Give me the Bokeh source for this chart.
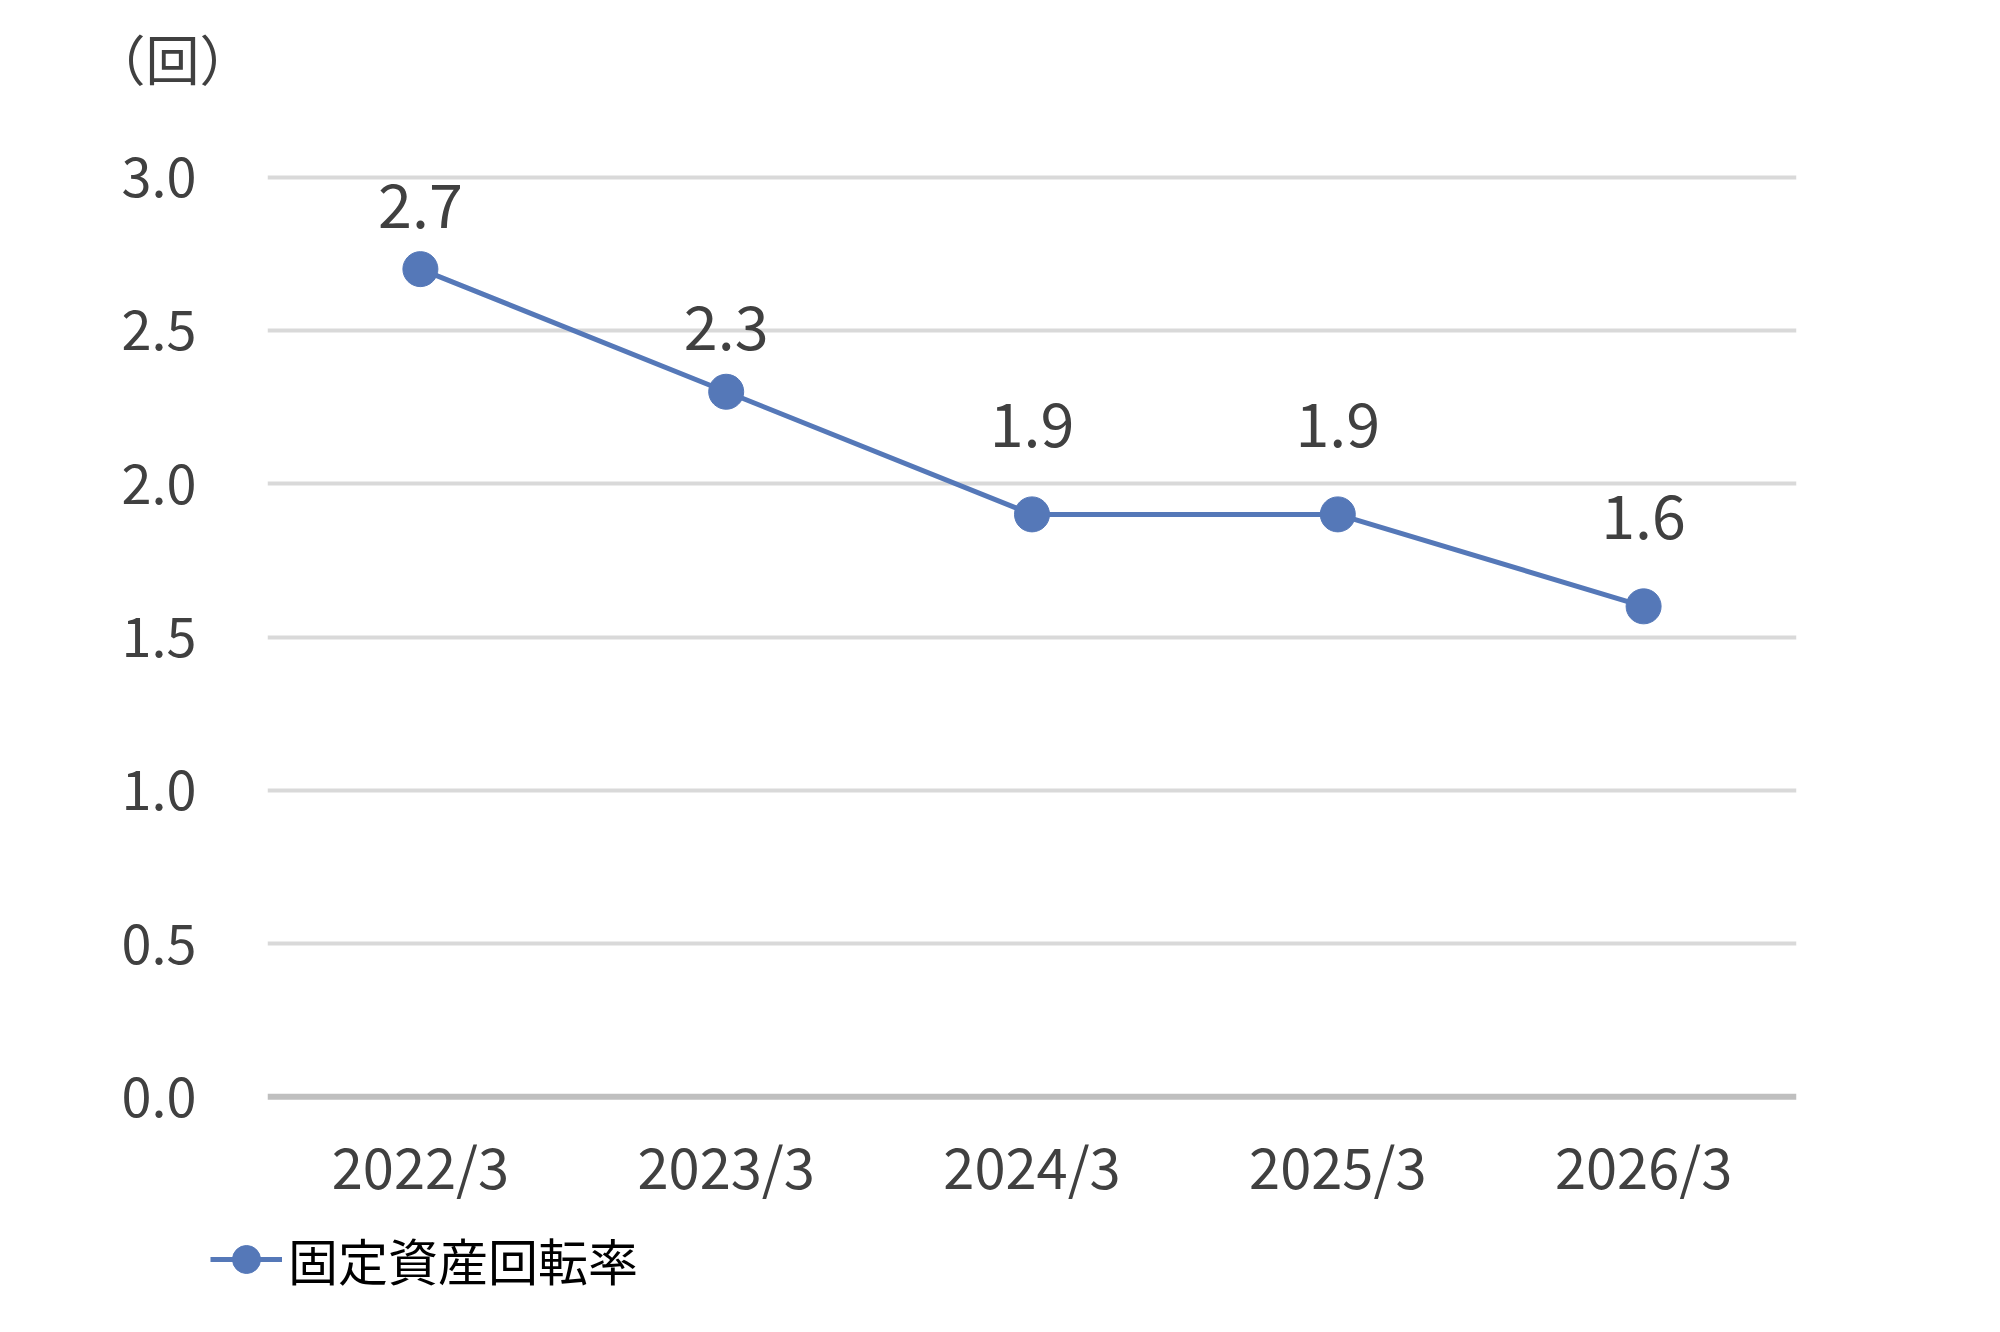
from bokeh.plotting import figure
from bokeh.layouts import column
from bokeh.models import (FactorRange, Range1d, FixedTicker, NumeralTickFormatter,
                          Span, Label, Legend, LegendItem, ColumnDataSource)
from bokeh.core.properties import value
from bokeh.embed import file_html
from bokeh.resources import INLINE

categories = ["2022/3", "2023/3", "2024/3", "2025/3", "2026/3"]
values = [2.7, 2.3, 1.9, 1.9, 1.6]
value_labels = ["2.7", "2.3", "1.9", "1.9", "1.6"]
y_ticks = [0.0, 0.5, 1.0, 1.5, 2.0, 2.5, 3.0]
series_name = "固定資産回転率"
unit_label = "（回）"

# label placement (style, not data): pixel offset of each value label above its point
label_dy = [-64, -64, -90, -90, -90]

FONT = "Noto Sans CJK JP"
TEXT = "#404040"
BLUE = "#5578b8"

src = ColumnDataSource(dict(x=categories, y=values, lab=value_labels, dy=label_dy))

def strip(h):
    f = figure(width=2000, height=h, output_backend="svg", toolbar_location=None,
               x_range=FactorRange(factors=categories, range_padding=0),
               y_range=Range1d(100, 101),
               x_axis_location=None, y_axis_location=None,
               min_border_left=0, min_border_right=0, min_border_top=0, min_border_bottom=0)
    f.frame_align = False
    f.outline_line_color = None
    f.grid.visible = False
    return f

# unit label strip above the chart
p0 = strip(100)
p0.add_layout(Label(x=91, y=43, x_units="screen", y_units="screen", text=unit_label,
                    text_font=FONT, text_font_size="54px", text_color=TEXT,
                    text_baseline="middle"))

p = figure(width=2000, height=1112, output_backend="svg", toolbar_location=None,
           x_range=FactorRange(factors=categories, range_padding=0),
           y_range=Range1d(-0.1, 3.1),
           min_border_left=267, min_border_right=204,
           min_border_top=46, min_border_bottom=85)
p.frame_align = False
p.outline_line_color = None
p.background_fill_color = "white"
p.border_fill_color = "white"

p.xgrid.grid_line_color = None
p.ygrid.ticker = FixedTicker(ticks=y_ticks[1:])
p.ygrid.grid_line_color = "#d9d9d9"
p.ygrid.grid_line_width = 4

p.add_layout(Span(location=0, dimension="width", line_color="#bfbfbf", line_width=6))

p.yaxis.ticker = FixedTicker(ticks=y_ticks)
p.yaxis.formatter = NumeralTickFormatter(format="0.0")
p.yaxis.axis_line_color = None
p.yaxis.major_tick_line_color = None
p.yaxis.minor_tick_line_color = None
p.yaxis.major_label_standoff = 65
p.yaxis.major_label_text_font = FONT
p.yaxis.major_label_text_font_size = "54px"
p.yaxis.major_label_text_color = TEXT

p.xaxis.axis_line_color = None
p.xaxis.major_tick_line_color = None
p.xaxis.minor_tick_line_color = None
p.xaxis.major_label_standoff = -10
p.xaxis.major_label_text_font = FONT
p.xaxis.major_label_text_font_size = "56px"
p.xaxis.major_label_text_color = TEXT

p.line("x", "y", source=src, line_color=BLUE, line_width=5)
p.scatter("x", "y", source=src, size=35, fill_color=BLUE, line_color=BLUE)

p.text("x", "y", text="lab", source=src, y_offset="dy", text_align="center",
       text_baseline="alphabetic", text_font=value(FONT), text_font_size="61px",
       text_color=TEXT)

# legend strip below the chart (its renderers lie outside its own y range)
p2 = strip(120)
lr = p2.line("x", "y", source=src, line_color=BLUE, line_width=5)
sr = p2.scatter("x", "y", source=src, size=35, fill_color=BLUE, line_color=BLUE)
legend = Legend(items=[LegendItem(label=series_name, renderers=[lr, sr])],
                location=(210, 37), orientation="horizontal",
                glyph_width=72, glyph_height=70, label_standoff=6,
                padding=0, margin=0, border_line_color=None,
                background_fill_alpha=0,
                label_text_font=FONT, label_text_font_size="50px",
                label_text_color="#000000")
p2.add_layout(legend, "center")

layout = column(p0, p, p2, spacing=0)
open("out.html", "w").write(file_html(layout, INLINE))
